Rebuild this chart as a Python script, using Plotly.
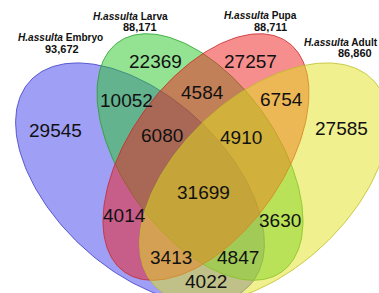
import numpy as np
import plotly.graph_objects as go

# ---- data ----
set_names = ["Embryo", "Larva", "Pupa", "Adult"]
set_totals = ["93,672", "88,171", "88,711", "86,860"]
species = "H.assulta"
region_keys = ["A", "B", "C", "D", "AB", "AC", "AD", "BC", "BD", "CD",
               "ABC", "ABD", "ACD", "BCD", "ABCD"]
region_counts = [29545, 22369, 27257, 27585, 10052, 4014, 4022, 4584, 3630,
                 6754, 6080, 4847, 3413, 4910, 31699]

# ---- layout (pixel space, y down) ----
W, H = 379, 293
# ellipse geometry: cx, cy, a, b, angle(deg, screen)
ellipses = [
    dict(cx=140, cy=183, a=150, b=86, ang=43),
    dict(cx=200, cy=157, a=141, b=77, ang=54.6),
    dict(cx=206, cy=157, a=141, b=77, ang=125.4),
    dict(cx=264, cy=183, a=150, b=86, ang=137),
]
fills = ["rgba(64,64,235,0.5)", "rgba(40,200,40,0.5)",
         "rgba(240,30,30,0.5)", "rgba(225,225,30,0.5)"]
edges = ["rgba(60,60,200,0.8)", "rgba(40,160,40,0.8)",
         "rgba(200,40,40,0.8)", "rgba(190,190,40,0.8)"]

region_pos = {
    "A": (55, 130), "B": (155, 61), "C": (250, 61), "D": (341, 128),
    "AB": (126, 100), "BC": (202, 92), "CD": (281, 99),
    "ABC": (162, 135), "BCD": (241, 137), "ABCD": (203, 192),
    "AC": (124, 215), "BD": (280, 220), "ACD": (171, 257),
    "ABD": (238, 257), "AD": (206, 281),
}
name_pos = [(60, 37, "center"), (130, 16, "center"), (260, 15, "center"), (302, 42, "left")]
total_pos = [(62, 49), (140, 27), (270, 27), (355, 53)]

fig = go.Figure()
t = np.linspace(0, 2 * np.pi, 241)
for e, fc, lc in zip(ellipses, fills, edges):
    th = np.deg2rad(e["ang"])
    x = e["cx"] + e["a"] * np.cos(t) * np.cos(th) - e["b"] * np.sin(t) * np.sin(th)
    y = e["cy"] + e["a"] * np.cos(t) * np.sin(th) + e["b"] * np.sin(t) * np.cos(th)
    fig.add_trace(go.Scatter(x=x, y=y, mode="lines", fill="toself",
                             fillcolor=fc, line=dict(color=lc, width=1),
                             hoverinfo="skip", showlegend=False))

font_num = dict(family="Arial, Liberation Sans, sans-serif", size=19, color="#111")
for k, v in zip(region_keys, region_counts):
    px, py = region_pos[k]
    fig.add_annotation(x=px, y=py, text=str(v), showarrow=False, font=font_num,
                       xanchor="center", yanchor="middle")

font_lab = dict(family="Arial, Liberation Sans, sans-serif", size=10.1, color="#111")
for (nx, ny, anc), (tx, ty), nm, tot in zip(name_pos, total_pos, set_names, set_totals):
    fig.add_annotation(x=nx, y=ny, text=f"<b><i>{species}</i> {nm}</b>", showarrow=False,
                       font=font_lab, xanchor=anc, yanchor="middle")
    fig.add_annotation(x=tx, y=ty, text=f"<b>{tot}</b>", showarrow=False,
                       font=dict(font_lab, size=11), xanchor="center", yanchor="middle")

fig.update_layout(width=W, height=H, autosize=False,
                  margin=dict(l=0, r=0, t=0, b=0),
                  paper_bgcolor="white", plot_bgcolor="white",
                  xaxis=dict(range=[0, W], visible=False, fixedrange=True),
                  yaxis=dict(range=[H, 0], visible=False, fixedrange=True))
fig.write_html("out.html", config={"displayModeBar": False},
               post_script="document.body.style.margin='0';document.body.style.overflow='hidden';")
